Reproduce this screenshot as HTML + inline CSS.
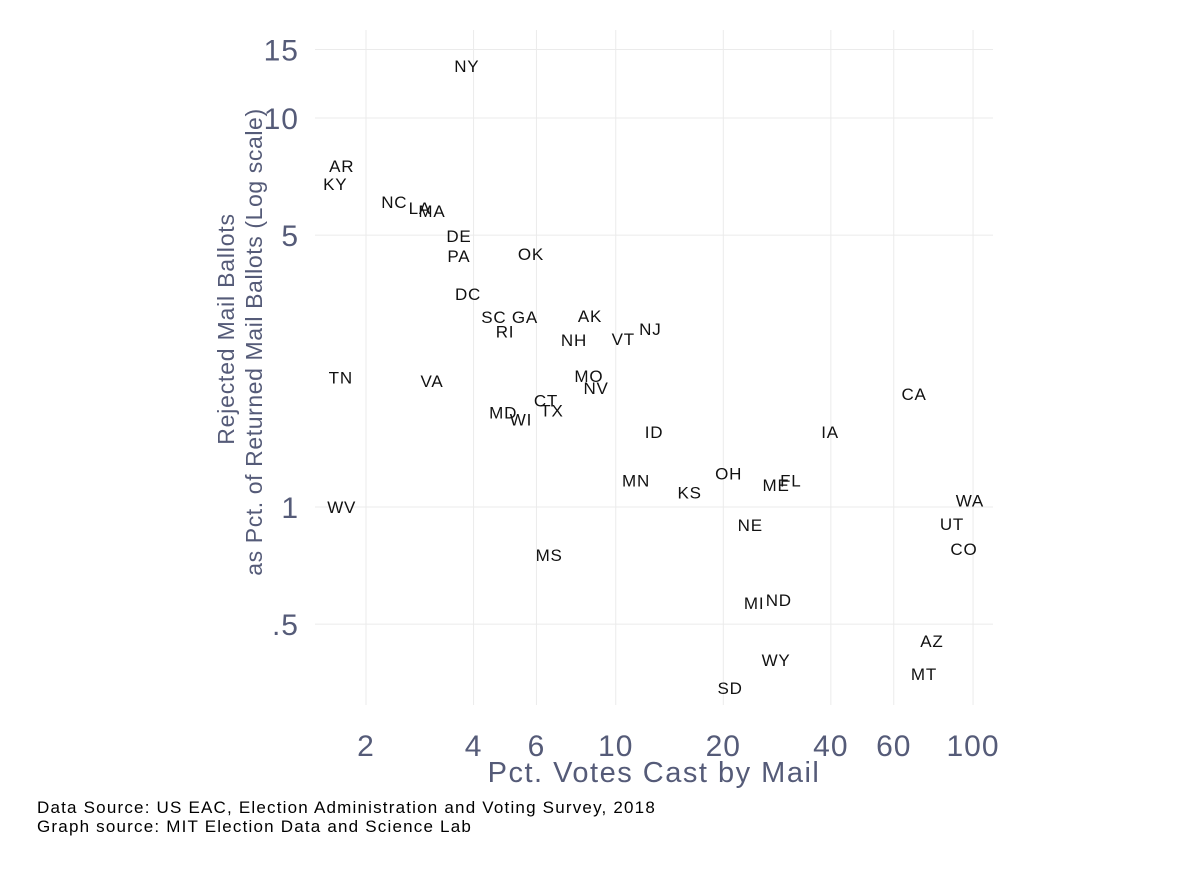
<!DOCTYPE html>
<html><head><meta charset="utf-8">
<style>
body{margin:0;background:#fff;}
svg text{font-family:"Liberation Sans",sans-serif;}
</style></head>
<body>
<svg id="chart" width="1200" height="872" xmlns="http://www.w3.org/2000/svg">
<g id="grid"></g>
<g id="pts"></g>
<g id="ticks"></g>
<text x="654" y="782" font-size="29" letter-spacing="1.5" fill="#555b78" text-anchor="middle">Pct. Votes Cast by Mail</text>
<text transform="translate(234,329) rotate(-90)" font-size="23" letter-spacing="0.8" fill="#555b78" text-anchor="middle">Rejected Mail Ballots</text>
<text transform="translate(262,342) rotate(-90)" font-size="23" letter-spacing="0.6" fill="#555b78" text-anchor="middle">as Pct. of Returned Mail Ballots (Log scale)</text>
<text x="37" y="813" font-size="17" letter-spacing="1.2" fill="#000">Data Source:  US EAC, Election Administration and Voting Survey, 2018</text>
<text x="37" y="832" font-size="17" letter-spacing="1.2" fill="#000">Graph source:  MIT Election Data and Science Lab</text>
</svg>
<script>
const states=["NY","AR","KY","NC","LA","MA","DE","PA","OK","DC","SC","GA","RI","AK","NJ","VT","NH","TN","VA","MO","NV","CT","TX","MD","WI","CA","IA","ID","OH","MN","ME","FL","KS","WA","WV","UT","NE","CO","MS","MI","ND","AZ","WY","MT","SD"];
const pctMail=[3.83,1.71,1.64,2.40,2.83,3.06,3.64,3.64,5.79,3.86,4.56,5.57,4.90,8.47,12.5,10.5,7.64,1.70,3.06,8.41,8.81,6.38,6.63,4.84,5.43,68.4,39.8,12.8,20.7,11.4,28.1,30.9,16.1,98,1.71,87.3,23.8,94.3,6.51,24.4,28.6,76.7,28.1,72.9,20.9];
const pctRejected=[13.6,7.53,6.76,6.08,5.87,5.77,4.97,4.42,4.47,3.53,3.08,3.08,2.83,3.10,2.87,2.70,2.69,2.15,2.11,2.17,2.02,1.88,1.77,1.75,1.68,1.95,1.56,1.56,1.22,1.17,1.14,1.17,1.09,1.04,1.0,0.904,0.899,0.78,0.753,0.567,0.577,0.452,0.404,0.372,0.343];
const xTicks=[2,4,6,10,20,40,60,100];
const xTickLabels=["2","4","6","10","20","40","60","100"];
const yTicks=[0.5,1,5,10,15];
const yTickLabels=[".5","1","5","10","15"];
const X=v=>366+357.3*(Math.log10(v)-Math.log10(2));
const Y=v=>507-389*Math.log10(v);
const NS="http://www.w3.org/2000/svg";
const grid=document.getElementById('grid'),pts=document.getElementById('pts'),tk=document.getElementById('ticks');
function mk(tag,attrs,parent){const e=document.createElementNS(NS,tag);for(const k in attrs)e.setAttribute(k,attrs[k]);parent.appendChild(e);return e;}
xTicks.forEach((t,i)=>{
  const l=mk('line',{x1:X(t),x2:X(t),y1:30,y2:705,stroke:'#ebebeb','stroke-width':1},grid);
  
  
  const tx=mk('text',{x:X(t),y:756,'font-size':30,'letter-spacing':1,fill:'#555b78','text-anchor':'middle'},tk);
  tx.textContent=xTickLabels[i];
  
  
});
yTicks.forEach((t,i)=>{
  const l=mk('line',{x1:315,x2:993,y1:Y(t),y2:Y(t),stroke:'#ebebeb','stroke-width':1},grid);
  
  
  const tx=mk('text',{x:299,y:Y(t)+11,'font-size':30,'letter-spacing':1,fill:'#555b78','text-anchor':'end'},tk);
  tx.textContent=yTickLabels[i];
  
  
});
states.forEach((s,i)=>{
  const tx=mk('text',{x:X(pctMail[i]),y:Y(pctRejected[i])+6,'font-size':17,'letter-spacing':0.8,fill:'#111','text-anchor':'middle'},pts);
  tx.textContent=s;
  
  
});
</script>
</body></html>
